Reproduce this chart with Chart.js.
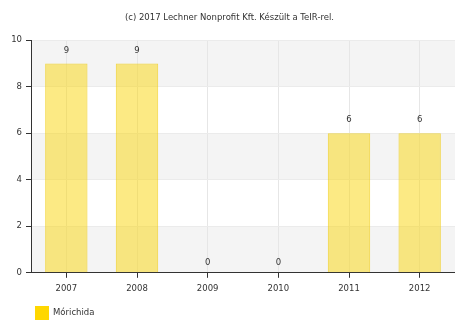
<!DOCTYPE html>
<html>
<head>
<meta charset="utf-8">
<script src="https://cdn.jsdelivr.net/npm/chart.js@4/dist/chart.umd.min.js"></script>
<style>
html,body{margin:0;padding:0;background:#fff;overflow:hidden;}
#wrap{width:455px;height:320px;position:relative;}
</style>
</head>
<body>
<div id="wrap"><canvas id="c" width="455" height="320"></canvas></div>
<script>
const categories = ['2007','2008','2009','2010','2011','2012'];
const values = [9, 9, 0, 0, 6, 6];
const seriesName = 'Mórichida';
const yTicks = [0, 2, 4, 6, 8, 10];
const titleText = '(c) 2017 Lechner Nonprofit Kft. Készült a TeIR-rel.';

const FONT = '"DejaVu Sans", Verdana, sans-serif';
const FSIZE = 8.5;

const bandsPlugin = {
  id: 'bands',
  beforeDraw(chart) {
    const {ctx, chartArea, scales} = chart;
    const y = scales.y;
    ctx.save();
    ctx.fillStyle = '#f4f4f4';
    for (let i = 0; i < yTicks.length - 1; i++) {
      if (i % 2 === 0) {
        const top = y.getPixelForValue(yTicks[i + 1]);
        const bot = y.getPixelForValue(yTicks[i]);
        ctx.fillRect(chartArea.left, top, chartArea.right - chartArea.left, bot - top);
      }
    }
    ctx.restore();
  }
};

const labelsPlugin = {
  id: 'vlabels',
  afterDatasetsDraw(chart) {
    const {ctx} = chart;
    const meta = chart.getDatasetMeta(0);
    ctx.save();
    ctx.font = FSIZE + 'px ' + FONT;
    ctx.fillStyle = '#333';
    ctx.textAlign = 'center';
    ctx.textBaseline = 'middle';
    meta.data.forEach((bar, i) => {
      ctx.fillText(String(values[i]), bar.x, bar.y - (values[i] === 0 ? 10 : 13));
    });
    ctx.restore();
  }
};

const legendPlugin = {
  id: 'customLegend',
  afterDraw(chart) {
    const {ctx} = chart;
    ctx.save();
    ctx.fillStyle = '#ffd700';
    ctx.fillRect(35, 306, 14, 14);
    ctx.font = FSIZE + 'px ' + FONT;
    ctx.fillStyle = '#333';
    ctx.textAlign = 'left';
    ctx.textBaseline = 'middle';
    ctx.fillText(seriesName, 53, 313);
    ctx.restore();
  }
};

new Chart(document.getElementById('c'), {
  type: 'bar',
  data: {
    labels: categories,
    datasets: [{
      label: seriesName,
      data: values,
      backgroundColor: 'rgba(250,214,10,0.5)',
      borderColor: 'rgba(240,205,20,0.75)',
      borderWidth: 1,
      categoryPercentage: 0.6,
      barPercentage: 1.0
    }]
  },
  options: {
    responsive: false,
    animation: false,
    devicePixelRatio: 1,
    layout: { padding: { left: 4, right: 0, top: 0, bottom: 20 } },
    plugins: {
      title: {
        display: true,
        text: titleText,
        color: '#333',
        font: { family: FONT, size: FSIZE, weight: 'normal' },
        padding: { top: 13, bottom: 17 }
      },
      legend: { display: false },
      tooltip: { enabled: false }
    },
    scales: {
      x: {
        grid: { offset: false, color: '#e6e6e6', tickColor: '#333', tickLength: 5, drawTicks: true },
        border: { color: '#333', width: 1 },
        ticks: { color: '#333', font: { family: FONT, size: FSIZE }, padding: 6 }
      },
      y: {
        min: 0, max: 10,
        afterBuildTicks(axis) { axis.ticks = yTicks.map(v => ({value: v})); },
        grid: { color: '#ebebeb', tickColor: '#333', tickLength: 5 },
        border: { color: '#333', width: 1 },
        ticks: { color: '#333', font: { family: FONT, size: FSIZE }, padding: 4 },
        afterFit(axis) { axis.width = 27; }
      }
    }
  },
  plugins: [bandsPlugin, labelsPlugin, legendPlugin]
});
</script>
</body>
</html>
